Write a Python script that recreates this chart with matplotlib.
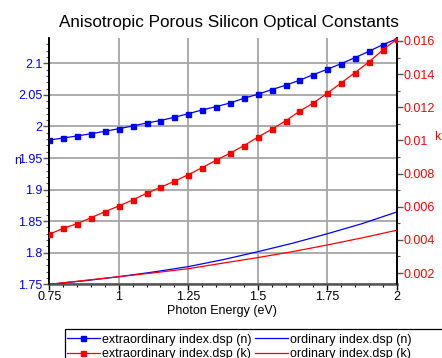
import matplotlib
matplotlib.use("Agg")
import matplotlib.pyplot as plt
from matplotlib.ticker import AutoMinorLocator
from matplotlib.lines import Line2D
from matplotlib.patches import Rectangle

plt.rcParams['font.family'] = ['Liberation Sans', 'DejaVu Sans']

# Extraordinary (sampled every 0.05 eV)
energy_e = [0.75, 0.80, 0.85, 0.90, 0.95, 1.00, 1.05, 1.10, 1.15, 1.20, 1.25, 1.30, 1.35,
            1.40, 1.45, 1.50, 1.55, 1.60, 1.65, 1.70, 1.75, 1.80, 1.85, 1.90, 1.95, 2.00]
n_ext = [1.9785, 1.9817, 1.9849, 1.9885, 1.9923, 1.9964, 2.0007, 2.0054, 2.0094, 2.0145,
         2.0202, 2.0261, 2.0313, 2.0371, 2.0446, 2.0509, 2.0582, 2.0652, 2.0731, 2.0820,
         2.0905, 2.0994, 2.1089, 2.1190, 2.1295, 2.1385]
k_ext = [0.004335, 0.004697, 0.004975, 0.005337, 0.005699, 0.006043, 0.006405, 0.006810,
         0.007172, 0.007534, 0.007932, 0.008354, 0.008801, 0.009224, 0.009682, 0.010189,
         0.010672, 0.011173, 0.011758, 0.012259, 0.012844, 0.013466, 0.014087, 0.014733,
         0.015457, 0.016103]

# Ordinary (smooth curves, read at several energies)
energy_o = [0.75, 0.875, 1.0, 1.125, 1.25, 1.375, 1.5, 1.625, 1.75, 1.875, 2.0]
n_ord = [1.750, 1.7555, 1.762, 1.7695, 1.778, 1.789, 1.8016, 1.815, 1.830, 1.846, 1.8645]
k_ord = [0.00132, 0.00155, 0.00178, 0.00201, 0.00226, 0.00260, 0.00293, 0.00329,
         0.00369, 0.00412, 0.00458]

title = "Anisotropic Porous Silicon Optical Constants"
xlabel = "Photon Energy (eV)"
x_ticks = [0.75, 1.0, 1.25, 1.5, 1.75, 2.0]
x_ticklabels = ["0.75", "1", "1.25", "1.5", "1.75", "2"]
n_ticks = [1.75, 1.8, 1.85, 1.9, 1.95, 2.0, 2.05, 2.1]
n_ticklabels = ["1.75", "1.8", "1.85", "1.9", "1.95", "2", "2.05", "2.1"]
k_ticks = [0.002, 0.004, 0.006, 0.008, 0.010, 0.012, 0.014, 0.016]
k_ticklabels = ["0.002", "0.004", "0.006", "0.008", "0.01", "0.012", "0.014", "0.016"]
labels = ["extraordinary index.dsp (n)", "extraordinary index.dsp (k)",
          "ordinary index.dsp (n)", "ordinary index.dsp (k)"]

BLUE = "#0000ff"
RED = "#ff0000"
W, H = 442, 358

fig = plt.figure(figsize=(4.42, 3.58), dpi=100)
ax = fig.add_axes([49.3/W, 1-284.3/H, (396.7-49.3)/W, (284.3-38.3)/H])
ax2 = ax.twinx()

ax.set_xlim(0.75, 2.0)
ax.set_ylim(1.75, 2.1396)
ax2.set_ylim(0.00132, 0.01616)

ax.grid(True, which='major', color='#a6a6a6', linewidth=1.3)
ax.set_axisbelow(True)

ax.plot(energy_o, n_ord, color=BLUE, lw=0.9, zorder=3)
ax2.plot(energy_o, k_ord, color=RED, lw=0.9, zorder=3)
ax.plot(energy_e, n_ext, color=BLUE, lw=0.9, marker='s', ms=3.6, mec=BLUE, mfc=BLUE, zorder=4)
ax2.plot(energy_e, k_ext, color=RED, lw=0.9, marker='s', ms=3.6, mec=RED, mfc=RED, zorder=4)

ax.set_xticks(x_ticks)
ax.set_xticklabels(x_ticklabels)
ax.set_yticks(n_ticks)
ax.set_yticklabels(n_ticklabels)
ax2.set_yticks(k_ticks)
ax2.set_yticklabels(k_ticklabels)
ax.xaxis.set_minor_locator(AutoMinorLocator(5))
ax.yaxis.set_minor_locator(AutoMinorLocator(5))
ax2.yaxis.set_minor_locator(AutoMinorLocator(2))

ax.tick_params(axis='x', which='major', labelsize=9, length=4, width=1, pad=1, colors='black')
ax.tick_params(axis='x', which='minor', length=2, width=0.8)
ax.tick_params(axis='y', which='major', labelsize=9, length=4, width=1, pad=1,
               colors='#555555', labelcolor=BLUE)
ax.tick_params(axis='y', which='minor', length=2, width=0.8, colors='#555555')
ax2.tick_params(axis='y', which='major', labelsize=9, length=4, width=1, pad=1,
                colors='#555555', labelcolor=RED)
ax2.tick_params(axis='y', which='minor', length=2, width=0.8, colors='#555555')

for a in (ax, ax2):
    for s in a.spines.values():
        s.set_linewidth(1.2)
        s.set_color('black')
ax.spines['bottom'].set_color('#555555')
ax.spines['bottom'].set_linewidth(1.8)
ax2.spines['bottom'].set_visible(False)
ax.spines['top'].set_visible(False)
ax2.spines['top'].set_visible(False)

fig.text(229/W, 1-22/H, title, ha='center', va='center', fontsize=12.3)
fig.text(222/W, 1-311/H, xlabel, ha='center', va='center', fontsize=9)
fig.text(18/W, 1-161/H, "n", ha='center', va='center', fontsize=9, color=BLUE)
fig.text(437/W, 1-137/H, "k", ha='center', va='center', fontsize=9, color=RED)

# legend frame (extends past the right edge as in the reference)
fig.patches.append(Rectangle((65/W, -0.05), 400/W, (1-329/H) + 0.05,
                             transform=fig.transFigure, facecolor='white',
                             edgecolor='black', linewidth=0.9, zorder=1))

handles = [
    Line2D([], [], color=BLUE, lw=0.9, marker='s', ms=3.6),
    Line2D([], [], color=RED, lw=0.9, marker='s', ms=3.6),
    Line2D([], [], color=BLUE, lw=0.9),
    Line2D([], [], color=RED, lw=0.9),
]
leg = fig.legend(handles, labels, ncol=2, loc='upper left',
                 bbox_to_anchor=(67/W, 1-333.5/H), fontsize=9,
                 frameon=False, handlelength=2.6, handletextpad=0.2,
                 columnspacing=0.3, labelspacing=0.2, borderpad=0.0,
                 borderaxespad=0)
leg.set_zorder(2)

fig.savefig("out.png", dpi=100)
